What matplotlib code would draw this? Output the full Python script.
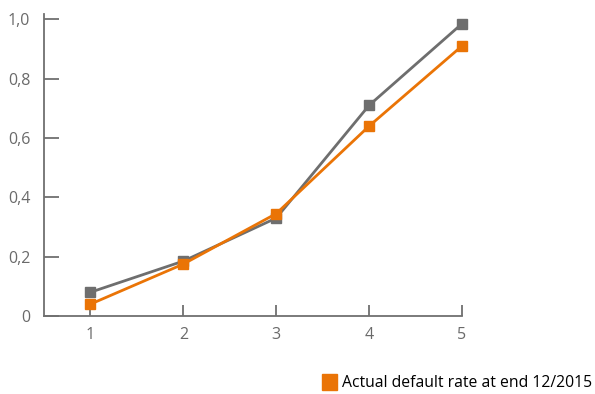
import matplotlib
matplotlib.use("Agg")
import matplotlib.pyplot as plt
from matplotlib.patches import Patch

# data
classes = [1, 2, 3, 4, 5]
expected = [0.08, 0.185, 0.33, 0.71, 0.985]   # grey series
actual = [0.04, 0.175, 0.345, 0.64, 0.91]     # orange series
yticks = [0, 0.2, 0.4, 0.6, 0.8, 1.0]
ytick_labels = ["0", "0,2", "0,4", "0,6", "0,8", "1,0"]
legend_label = "Actual default rate at end 12/2015"

grey = "#6e6e6e"
orange = "#ea7406"
axis_col = "#707070"

plt.rcParams["font.family"] = ["Open Sans", "DejaVu Sans"]

fig = plt.figure(figsize=(5.95, 3.94), dpi=100)
ax = fig.add_axes([0.074, 0.198, 0.7025, 0.766])

ax.plot(classes, expected, color=grey, lw=2, marker="s", ms=7, zorder=3, clip_on=False)
ax.plot(classes, actual, color=orange, lw=2, marker="s", ms=7, zorder=4, clip_on=False)

ax.set_xlim(0.5, 5)
ax.set_ylim(0, 1.017)
ax.set_xticks(classes)
ax.set_yticks(yticks)
ax.set_yticklabels(ytick_labels)

for s in ["top", "right"]:
    ax.spines[s].set_visible(False)
for s in ["left", "bottom"]:
    ax.spines[s].set_color(axis_col)
    ax.spines[s].set_linewidth(1.3)

ax.tick_params(axis="y", direction="in", length=11, width=1.3, color=axis_col,
               labelcolor="#6a6a6a", labelsize=11.5, pad=10)
ax.tick_params(axis="x", direction="in", length=8, width=1.3, color=axis_col,
               labelcolor="#6a6a6a", labelsize=11.5, pad=8)

# only the orange series has a legend entry
fig.legend(handles=[Patch(color=orange, label=legend_label)],
           loc="lower right", bbox_to_anchor=(1.008, -0.012), frameon=False,
           fontsize=11.3, handlelength=0.95, handleheight=1.2,
           handletextpad=0.3, borderaxespad=0.1)

fig.savefig("out.png", dpi=100)
